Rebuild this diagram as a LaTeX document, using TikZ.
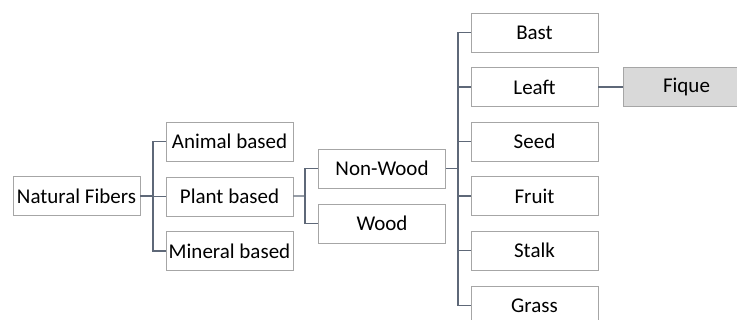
\documentclass[tikz,border=0pt]{standalone}
\usepackage{fontspec}
\setmainfont{Carlito}
\definecolor{lnkcol}{HTML}{5E6878}
\definecolor{boxcol}{HTML}{A6A6A6}
\definecolor{fiquecol}{HTML}{D9D9D9}

\begin{document}
\begin{tikzpicture}[x=1pt,y=-1pt,fbox/.style={draw=boxcol,fill=white,line width=0.9pt,minimum width=127pt,minimum height=39pt,inner sep=0pt,font=\fontsize{21}{24}\selectfont},lnk/.style={draw=lnkcol,line width=1.2pt}]
\useasboundingbox (0,0) rectangle (737,320);
\clip (0,0) rectangle (737,320);
\node[fbox] (nf) at (76.5,196) {Natural Fibers};
\node[fbox] (animal) at (229.5,141.5) {Animal based};
\node[fbox] (plant) at (229.5,196.5) {Plant based};
\node[fbox] (mineral) at (229.5,251) {Mineral based};
\node[fbox] (nonwood) at (382,168.5) {Non-Wood};
\node[fbox] (wood) at (382,223.5) {Wood};
\foreach \y/\t in %
{32.5/Bast,87/Leaft,141.5/Seed,196/Fruit,250.5/Stalk,305.5/Grass} {
   \node[fbox] (\t) at (534.5,\y) {\t};
}
\node[fbox,fill=fiquecol] (fique) at (686.5,87) {Fique};
\coordinate (b1) at (153,196);
\coordinate (b2) at (305,196);
\coordinate (b3) at (458,168.5);
\draw[lnk] (nf) -- (b1);
\foreach \n in {animal,plant,mineral} {
   \draw[lnk] (b1) |- (\n.west);
}
\draw[lnk] (plant) -- (b2);
\foreach \n in {nonwood,wood} {
   \draw[lnk] (b2) |- (\n.west);
}
\draw[lnk] (nonwood) -- (b3);
\foreach \n in {Bast,Leaft,Seed,Fruit,Stalk,Grass} {
   \draw[lnk] (b3) |- (\n.west);
}
\draw[lnk] (Leaft) -- (fique);
\end{tikzpicture}
\end{document}
